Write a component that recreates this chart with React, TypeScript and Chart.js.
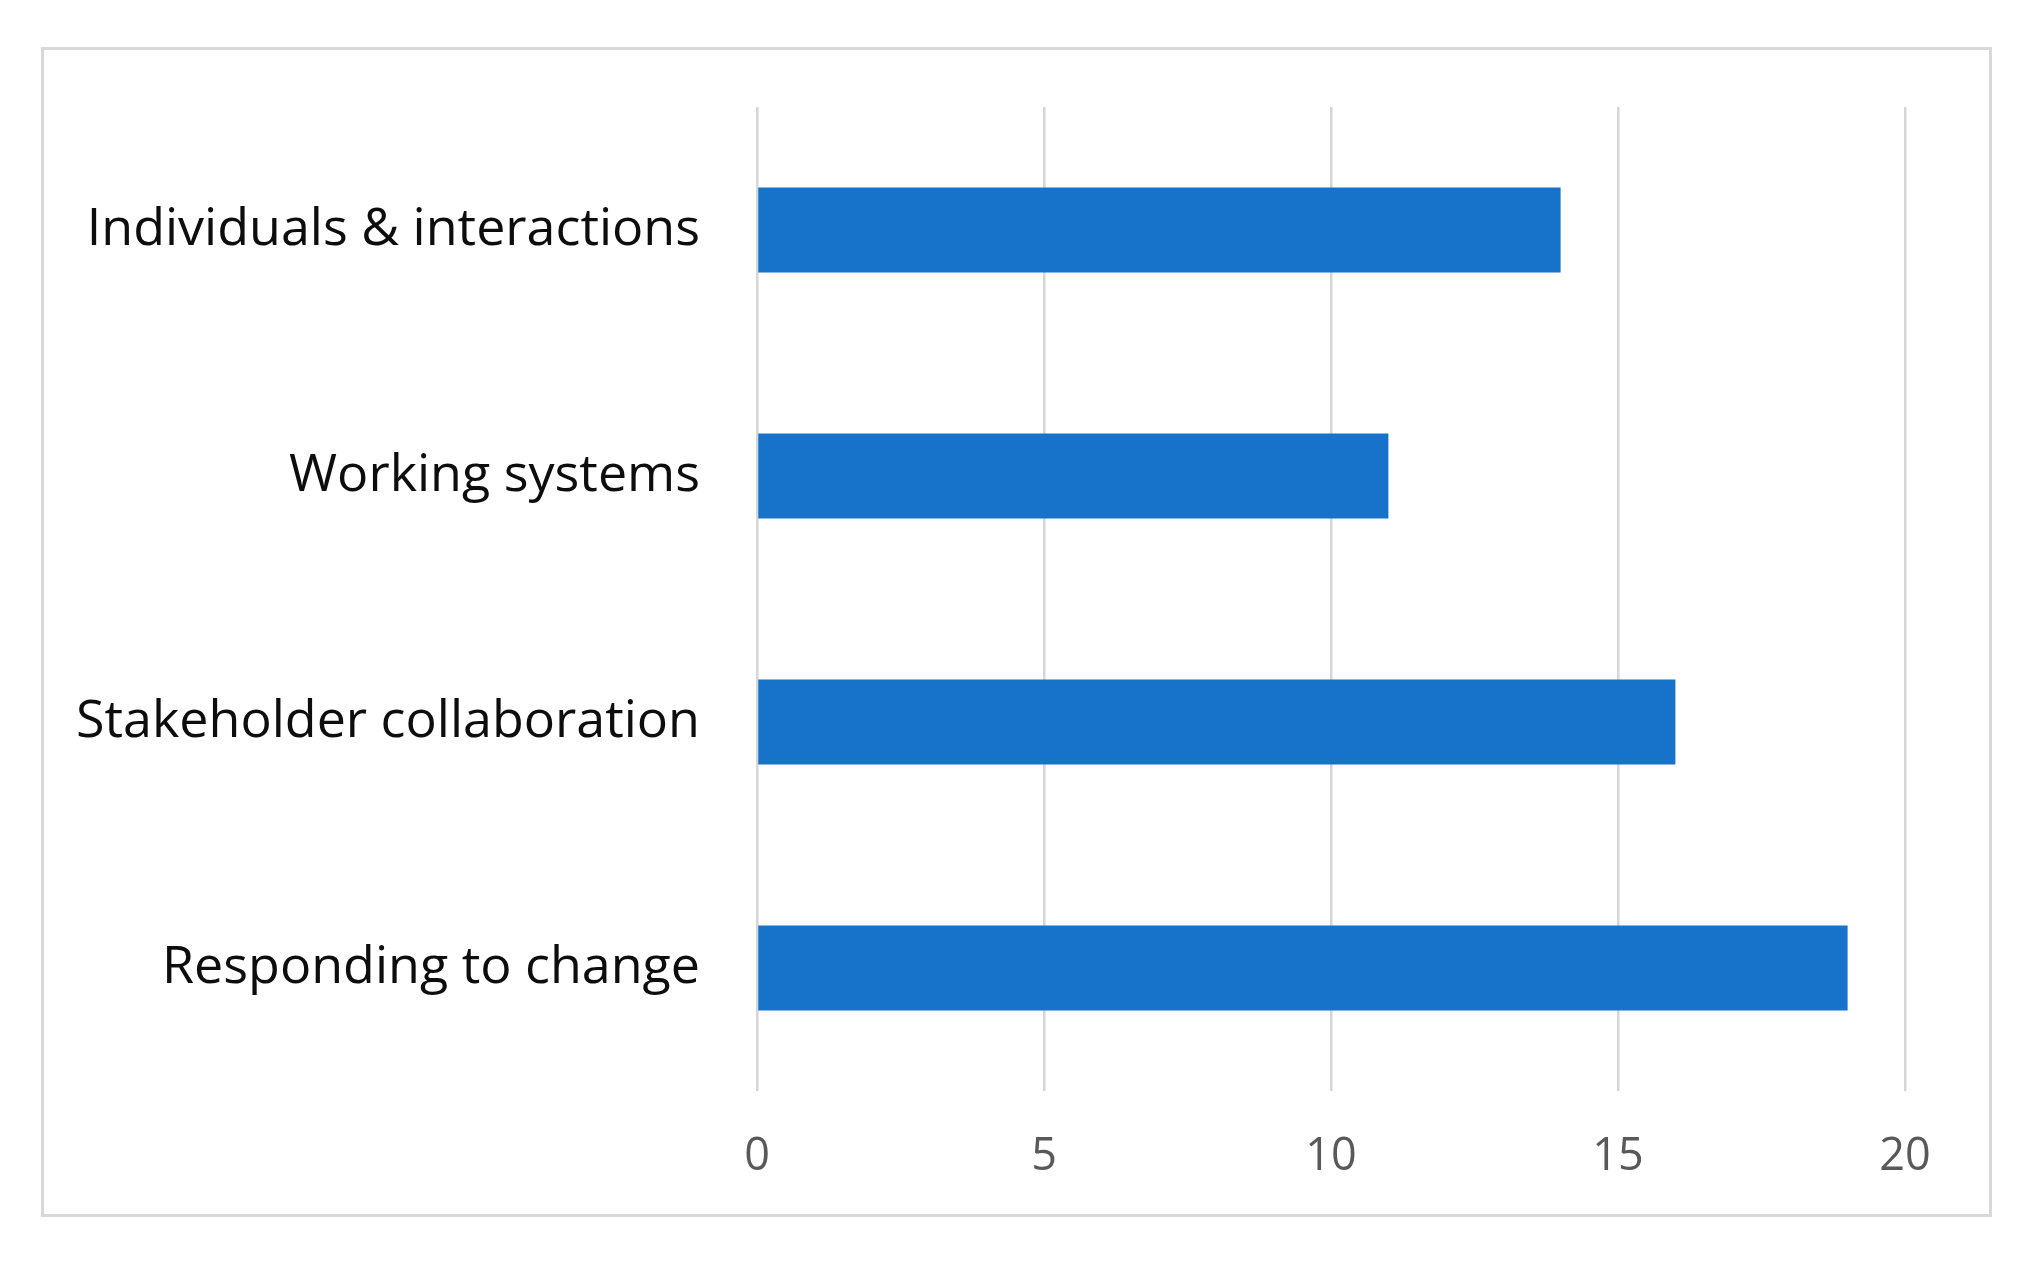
import React, { useEffect, useRef } from "react";
import { Chart, registerables } from "chart.js";

Chart.register(...registerables);

const categories = [
  "Individuals & interactions",
  "Working systems",
  "Stakeholder collaboration",
  "Responding to change",
];
const values = [14, 11, 16, 19];
const xMin = 0;
const xMax = 20;
const xStep = 5;

export default function App() {
  const ref = useRef<HTMLCanvasElement | null>(null);

  useEffect(() => {
    if (!ref.current) return;
    const chart = new Chart(ref.current, {
      type: "bar",
      data: {
        labels: categories,
        datasets: [
          {
            data: values,
            backgroundColor: "#1673C9",
            borderWidth: 0,
            categoryPercentage: 1,
            barPercentage: 0.345,
          },
        ],
      },
      options: {
        indexAxis: "y",
        responsive: false,
        animation: false,
        layout: { padding: { top: 57, right: 84, left: 0, bottom: 0 } },
        plugins: {
          legend: { display: false },
          tooltip: { enabled: false },
          title: { display: false },
        },
        scales: {
          x: {
            min: xMin,
            max: xMax,
            ticks: {
              stepSize: xStep,
              color: "#595959",
              padding: 39,
              font: { family: "'Open Sans'", size: 45 },
            },
            grid: { color: "#d6d6d6", lineWidth: 2.5, drawTicks: false },
            border: { display: false },
            afterFit: (scale: any) => {
              scale.height = 123;
              scale.paddingLeft = 0;
              scale.paddingRight = 0;
              scale.paddingTop = 0;
              scale.paddingBottom = 0;
            },
          },
          y: {
            ticks: {
              color: "#0d0d0d",
              padding: 57,
              font: { family: "'Open Sans'", size: 52 },
            },
            grid: { display: false, drawTicks: false },
            border: { display: false },
            afterFit: (scale: any) => {
              scale.width = 713;
              scale.paddingLeft = 0;
              scale.paddingRight = 0;
              scale.paddingTop = 0;
              scale.paddingBottom = 0;
            },
          },
        },
      },
    });
    return () => chart.destroy();
  }, []);

  return (
    <div style={{ position: "absolute", left: 0, top: 0, width: 2040, height: 1268, background: "#fff" }}>
      <div
        style={{
          position: "absolute",
          left: 41,
          top: 47,
          width: 1945,
          height: 1164,
          border: "3px solid #d9d9d9",
          background: "#fff",
        }}
      >
        <canvas ref={ref} width={1945} height={1164} style={{ width: 1945, height: 1164, display: "block" }} />
      </div>
    </div>
  );
}
